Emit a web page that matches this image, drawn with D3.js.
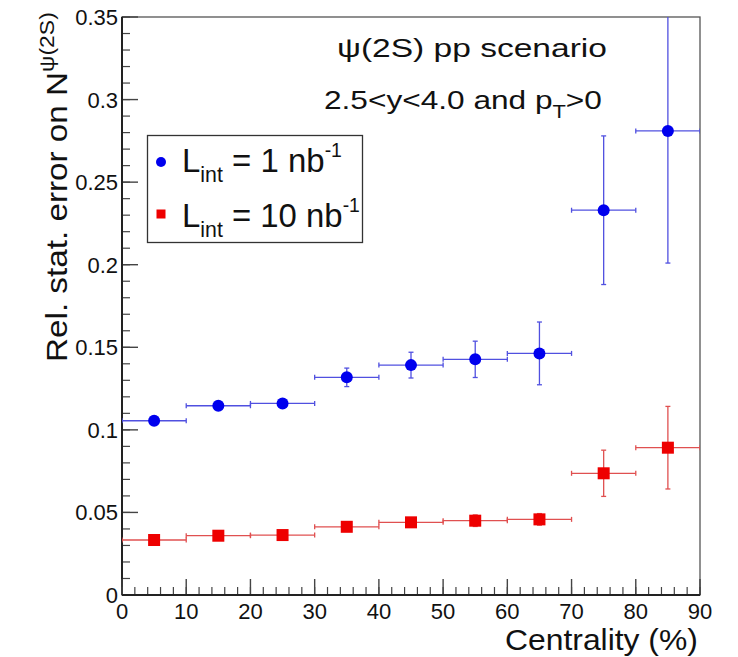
<!DOCTYPE html>
<html><head><meta charset="utf-8">
<script src="https://cdn.jsdelivr.net/npm/d3@7/dist/d3.min.js"></script>
<style>body{margin:0;background:#fff}svg{display:block;font-family:"Liberation Sans",Arial,sans-serif}</style>
</head><body><svg id="c" width="738" height="657"></svg>
<script>
const binCenters=[5,15,25,35,45,55,65,75,85];
const binHalfWidth=[5,5,5,5,5,5,5,5,5];
const lumi1Values=[0.1055,0.1146,0.116,0.1318,0.1392,0.1427,0.1463,0.233,0.281];
const lumi1Errors=[0.002,0.002,0.0022,0.0056,0.0078,0.011,0.019,0.045,0.080];
const lumi10Values=[0.0333,0.0359,0.0363,0.0413,0.044,0.045,0.0458,0.0737,0.0892];
const lumi10Errors=[0.0007,0.0007,0.0008,0.0018,0.0025,0.0035,0.0035,0.014,0.025];
const xTicks=[0,10,20,30,40,50,60,70,80,90];
const yTicks=[0,0.05,0.1,0.15,0.2,0.25,0.3,0.35];

const svg=d3.select("#c");
const L=122,R=700,T=17,B=595;
const x=d3.scaleLinear().domain([0,90]).range([L,R]);
const y=d3.scaleLinear().domain([0,0.35]).range([B,T]);

// frame
svg.append("rect").attr("x",L).attr("y",T).attr("width",R-L).attr("height",B-T)
  .attr("fill","none").attr("stroke","#555").attr("stroke-width",1.3);
svg.append("clipPath").attr("id","pc").append("rect").attr("x",L).attr("y",T).attr("width",R-L).attr("height",B-T);

// y axis
const yMinor=d3.range(0,0.3501,0.01);
const gy=svg.append("g");
gy.selectAll("line.mn").data(yMinor).join("line").attr("x1",L).attr("x2",L+8)
  .attr("y1",d=>y(d)).attr("y2",d=>y(d)).attr("stroke","#444").attr("stroke-width",1.2);
gy.selectAll("line.mj").data(yTicks).join("line").attr("x1",L).attr("x2",L+16)
  .attr("y1",d=>y(d)).attr("y2",d=>y(d)).attr("stroke","#444").attr("stroke-width",1.4);
gy.selectAll("text").data(yTicks).join("text").attr("x",L-4).attr("y",d=>y(d)+8)
  .attr("text-anchor","end").attr("font-size",22).attr("fill","#111").text(d=>d===0?"0":String(d));
svg.append("line").attr("x1",L).attr("x2",L).attr("y1",T).attr("y2",B).attr("stroke","#222").attr("stroke-width",2);

// x axis
const xMinor=d3.range(0,90.01,2);
const gx=svg.append("g");
gx.selectAll("line.mn").data(xMinor).join("line").attr("x1",d=>x(d)).attr("x2",d=>x(d))
  .attr("y1",B).attr("y2",B-8).attr("stroke","#444").attr("stroke-width",1.2);
gx.selectAll("line.mj").data(xTicks).join("line").attr("x1",d=>x(d)).attr("x2",d=>x(d))
  .attr("y1",B).attr("y2",B-16).attr("stroke","#444").attr("stroke-width",1.4);
gx.selectAll("text").data(xTicks).join("text").attr("x",d=>x(d)).attr("y",B+24)
  .attr("text-anchor","middle").attr("font-size",22).attr("fill","#111").text(d=>d);
svg.append("line").attr("x1",L).attr("x2",R).attr("y1",B).attr("y2",B).attr("stroke","#222").attr("stroke-width",2);

// helper: place text group and stretch horizontally to a target width
function fitText(transformBase,targetW,build){
  const g=svg.append("g");
  const inner=g.append("g");
  const t=inner.append("text").attr("fill","#111");
  build(t);
  const w=t.node().getBBox().width;
  const s=targetW/w;
  g.attr("transform",transformBase);
  inner.attr("transform",`scale(${s},1)`);
  return g;
}

// axis titles
fitText("translate(505,650)",193,t=>{t.attr("font-size",29).text("Centrality (%)");});
fitText("translate(67,362) rotate(-90)",350,t=>{
  t.attr("font-size",29);
  t.append("tspan").text("Rel. stat. error on N");
  t.append("tspan").attr("dy",-13).attr("font-size",20).text("ψ(2S)");
});

// annotation
fitText("translate(337,57)",270,t=>{t.attr("font-size",26).text("ψ(2S) pp scenario");});
fitText("translate(324,109)",278,t=>{
  t.attr("font-size",26);
  t.append("tspan").text("2.5<y<4.0 and p");
  t.append("tspan").attr("dy",9).attr("font-size",18).text("T");
  t.append("tspan").attr("dy",-9).text(">0");
});

// data
function drawSeries(vals,errs,col,lineCol,shape){
  const g=svg.append("g").attr("clip-path","url(#pc)");
  const d=binCenters.map((c,i)=>({c,h:binHalfWidth[i],v:vals[i],e:errs[i]}));
  const ln=(cls,x1,x2,y1,y2)=>g.selectAll("line."+cls).data(d).join("line").attr("class",cls)
    .attr("x1",x1).attr("x2",x2).attr("y1",y1).attr("y2",y2).attr("stroke",lineCol).attr("stroke-width",1.3);
  ln("h",p=>x(p.c-p.h),p=>x(p.c+p.h),p=>y(p.v),p=>y(p.v));
  ln("v",p=>x(p.c),p=>x(p.c),p=>y(p.v-p.e),p=>y(p.v+p.e));
  ln("ch1",p=>x(p.c-p.h),p=>x(p.c-p.h),p=>y(p.v)-2.5,p=>y(p.v)+2.5);
  ln("ch2",p=>x(p.c+p.h),p=>x(p.c+p.h),p=>y(p.v)-2.5,p=>y(p.v)+2.5);
  ln("cv1",p=>x(p.c)-2.5,p=>x(p.c)+2.5,p=>y(p.v-p.e),p=>y(p.v-p.e));
  ln("cv2",p=>x(p.c)-2.5,p=>x(p.c)+2.5,p=>y(p.v+p.e),p=>y(p.v+p.e));
  if(shape==="circle"){
    g.selectAll("circle").data(d).join("circle").attr("cx",p=>x(p.c)).attr("cy",p=>y(p.v)).attr("r",6).attr("fill",col);
  } else {
    g.selectAll("rect").data(d).join("rect").attr("x",p=>x(p.c)-6).attr("y",p=>y(p.v)-6).attr("width",12).attr("height",12).attr("fill",col);
  }
}
drawSeries(lumi1Values,lumi1Errors,"#0000ee","#5050e0","circle");
drawSeries(lumi10Values,lumi10Errors,"#ee0000","#e05050","square");

// legend
svg.append("rect").attr("x",147.5).attr("y",135.5).attr("width",215).attr("height",107).attr("fill","#fff").attr("stroke","#333").attr("stroke-width",1.3);
svg.append("circle").attr("cx",161).attr("cy",162).attr("r",5).attr("fill","#0000ee");
svg.append("rect").attr("x",156.5).attr("y",209.5).attr("width",9).attr("height",9).attr("fill","#ee0000");
function legText(yb,num,w){
  fitText(`translate(182,${yb})`,w,t=>{
    t.attr("font-size",34);
    t.append("tspan").text("L");
    t.append("tspan").attr("dy",10).attr("font-size",22).text("int");
    t.append("tspan").attr("dy",-10).text(" = "+num+" nb");
    t.append("tspan").attr("dy",-15).attr("font-size",20).text("-1");
  });
}
legText(172,"1",160);
legText(227,"10",178);
</script></body></html>
